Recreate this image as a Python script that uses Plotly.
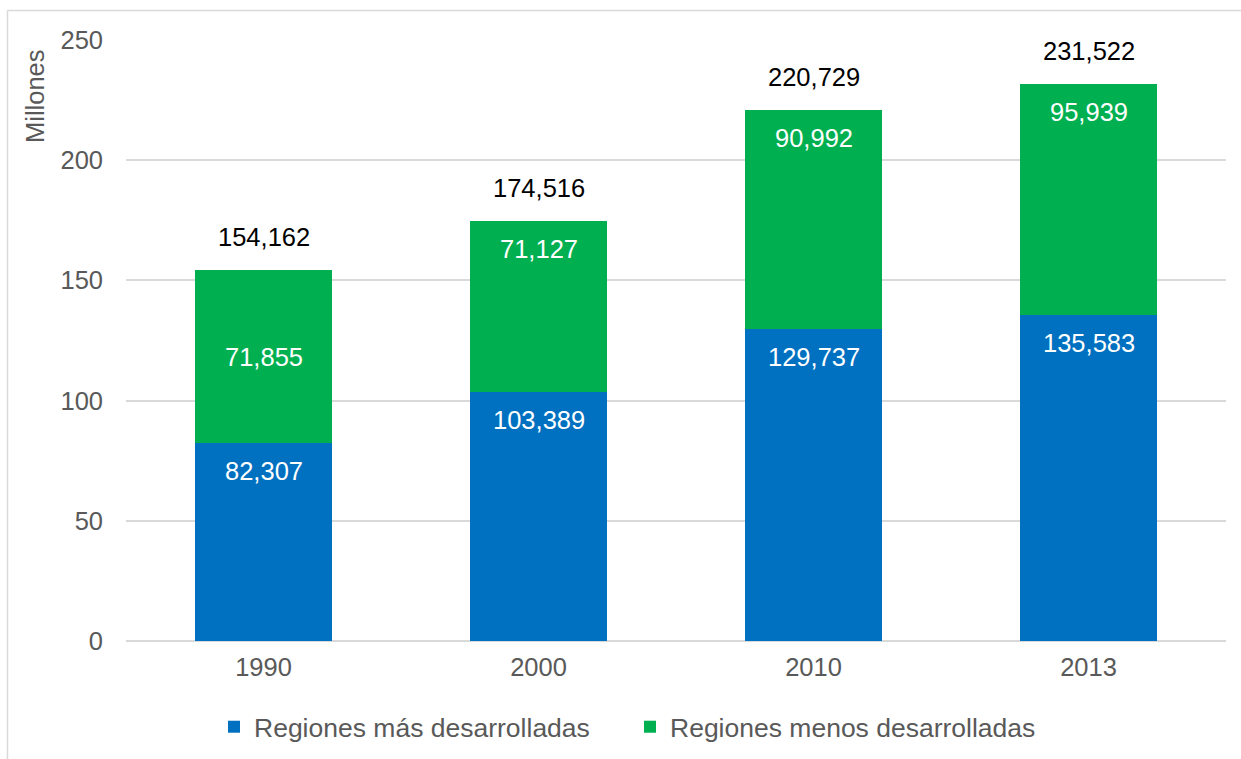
import plotly.graph_objects as go

years = ["1990", "2000", "2010", "2013"]
mas = [82.307, 103.389, 129.737, 135.583]
menos = [71.855, 71.127, 90.992, 95.939]
totals_lbl = ["154,162", "174,516", "220,729", "231,522"]
mas_lbl = ["82,307", "103,389", "129,737", "135,583"]
menos_lbl = ["71,855", "71,127", "90,992", "95,939"]
menos_centered = [True, False, False, False]

W, H = 1241, 759
L, R, T, B = 126, 15, 40, 118
pw, ph = W - L - R, H - T - B

def px(x):
    return (x - L) / pw

def py(y):
    return (H - B - y) / ph

FONT = "Liberation Sans, Arial, sans-serif"
BLUE = "#0070C0"
GREEN = "#00B050"

xi = list(range(len(years)))

fig = go.Figure()
fig.add_trace(go.Bar(x=xi, y=mas, name="Regiones más desarrolladas",
                     marker=dict(color=BLUE, line=dict(width=0)), width=0.5))
fig.add_trace(go.Bar(x=xi, y=menos, name="Regiones menos desarrolladas",
                     marker=dict(color=GREEN, line=dict(width=0)), width=0.5))

ann = []
for i in xi:
    tot = mas[i] + menos[i]
    ann.append(dict(x=i, y=tot, text=totals_lbl[i], showarrow=False, yanchor="bottom",
                    yshift=17, font=dict(size=25.5, color="#000000", family=FONT)))
    ann.append(dict(x=i, y=mas[i], text=mas_lbl[i], showarrow=False, yanchor="top",
                    yshift=-12, font=dict(size=25.5, color="#FFFFFF", family=FONT)))
    if menos_centered[i]:
        ann.append(dict(x=i, y=mas[i] + menos[i] / 2, text=menos_lbl[i], showarrow=False,
                        yanchor="middle", font=dict(size=25.5, color="#FFFFFF", family=FONT)))
    else:
        ann.append(dict(x=i, y=tot, text=menos_lbl[i], showarrow=False, yanchor="top",
                        yshift=-12, font=dict(size=25.5, color="#FFFFFF", family=FONT)))

ann.append(dict(x=px(35), y=py(96), xref="paper", yref="paper", text="Millones",
                textangle=-90, showarrow=False, xanchor="center", yanchor="middle",
                font=dict(size=25.5, color="#595959", family=FONT)))

shapes = [
    dict(type="line", xref="paper", yref="paper", x0=px(7.5), x1=px(W + 5), y0=py(10.5), y1=py(10.5),
         line=dict(color="#D9D9D9", width=1.5)),
    dict(type="line", xref="paper", yref="paper", x0=px(7.5), x1=px(7.5), y0=py(10.5), y1=py(H + 5),
         line=dict(color="#D9D9D9", width=1.5)),
]

fig.update_layout(
    width=W, height=H, barmode="stack",
    margin=dict(l=L, r=R, t=T, b=B, autoexpand=False),
    paper_bgcolor="white", plot_bgcolor="white",
    font=dict(family=FONT, size=25.5, color="#595959"),
    showlegend=True,
    legend=dict(orientation="h", x=px(214), xanchor="left", y=py(727), yanchor="middle",
                font=dict(size=26.5, color="#595959", family=FONT), traceorder="normal",
                itemwidth=30, entrywidth=371, entrywidthmode="pixels",
                bgcolor="rgba(0,0,0,0)"),
    annotations=ann, shapes=shapes,
    xaxis=dict(range=[-0.5, len(years) - 0.5], tickmode="array", tickvals=xi, ticktext=years,
               showgrid=False, showline=False, zeroline=False, ticks="",
               tickfont=dict(size=25.5, color="#595959"), ticklabelstandoff=8, automargin=False),
    yaxis=dict(range=[0, 250], dtick=50, showgrid=True, gridcolor="#D9D9D9", gridwidth=1.5,
               zeroline=True, zerolinecolor="#D9D9D9", zerolinewidth=1.5, showline=False, ticks="",
               tickfont=dict(size=25.5, color="#595959"), ticklabelstandoff=22, automargin=False),
)

fig.write_html("out.html", config={"displayModeBar": False},
               post_script="document.body.style.margin='0';document.body.style.overflow='hidden';")
